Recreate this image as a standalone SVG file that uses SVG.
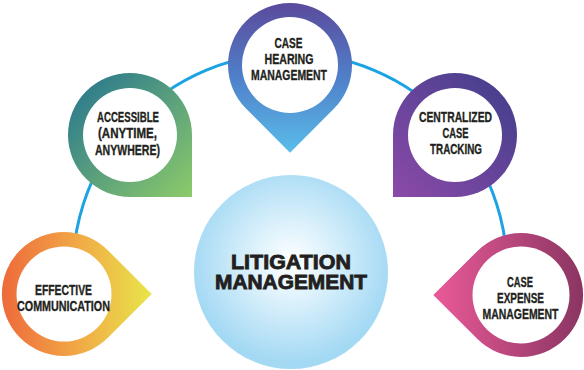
<svg xmlns="http://www.w3.org/2000/svg" width="584" height="370" viewBox="0 0 584 370">
  <style>
    .arc { fill: none; stroke: #1ba3e3; stroke-width: 3; }
    .inner { fill: #ffffff; }
    .pt { font-family: "Liberation Sans", Arial, sans-serif; font-weight: 700; font-size: 15px; fill: #231f20; text-anchor: middle; stroke: #231f20; stroke-width: 0.35; }
    .ct { font-family: "Liberation Sans", Arial, sans-serif; font-weight: 700; font-size: 19.5px; fill: #231f20; text-anchor: middle; stroke: #231f20; stroke-width: 0.8; }
  </style>
  <defs>
    <linearGradient id="gEff" gradientUnits="userSpaceOnUse" x1="2" y1="294" x2="152" y2="294">
      <stop offset="0" stop-color="#ee6a3b"/>
      <stop offset="0.5" stop-color="#f1a846"/>
      <stop offset="1" stop-color="#e8e64a"/>
    </linearGradient>
    <linearGradient id="gAcc" gradientUnits="userSpaceOnUse" x1="80" y1="85" x2="192" y2="197">
      <stop offset="0" stop-color="#2c7a8d"/>
      <stop offset="1" stop-color="#8dca6a"/>
    </linearGradient>
    <linearGradient id="gHear" gradientUnits="userSpaceOnUse" x1="290" y1="3" x2="290" y2="153">
      <stop offset="0" stop-color="#5b4a9c"/>
      <stop offset="0.5" stop-color="#4f80c9"/>
      <stop offset="1" stop-color="#5abdea"/>
    </linearGradient>
    <linearGradient id="gCen" gradientUnits="userSpaceOnUse" x1="505" y1="85" x2="393" y2="197">
      <stop offset="0" stop-color="#463f8d"/>
      <stop offset="1" stop-color="#8b4aa8"/>
    </linearGradient>
    <linearGradient id="gExp" gradientUnits="userSpaceOnUse" x1="433" y1="295" x2="583" y2="295">
      <stop offset="0" stop-color="#ea5a98"/>
      <stop offset="1" stop-color="#8a3562"/>
    </linearGradient>
    <radialGradient id="gCenter" cx="291" cy="262" r="100" gradientUnits="userSpaceOnUse">
      <stop offset="0" stop-color="#ffffff"/>
      <stop offset="0.35" stop-color="#e0f3fc"/>
      <stop offset="1" stop-color="#a4d9f4"/>
    </radialGradient>
  </defs>

  <g id="connectors">
    <path class="arc" d="M73.8,288.9 A217 217 0 1 1 506.2,288.9"/>
  </g>

  <g id="center">
    <circle cx="291" cy="272" r="97" fill="url(#gCenter)"/>
    <text class="ct" x="291" y="269" textLength="120" lengthAdjust="spacingAndGlyphs">LITIGATION</text>
    <text class="ct" x="291" y="289" textLength="152" lengthAdjust="spacingAndGlyphs">MANAGEMENT</text>
  </g>

  <g id="effective-communication">
    <path d="M151.7,294 L107.8,337.8 A62 62 0 1 1 107.8,250.2 Z" fill="url(#gEff)"/>
    <circle class="inner" cx="64" cy="294" r="47.5"/>
    <text class="pt" x="63.5" y="295" textLength="57" lengthAdjust="spacingAndGlyphs">EFFECTIVE</text>
    <text class="pt" x="63.5" y="311" textLength="93" lengthAdjust="spacingAndGlyphs">COMMUNICATION</text>
  </g>

  <g id="accessible">
    <path d="M192,197 L130,197 A62 62 0 1 1 192,135 Z" fill="url(#gAcc)"/>
    <circle class="inner" cx="130" cy="135" r="47"/>
    <text class="pt" x="128" y="122" textLength="62" lengthAdjust="spacingAndGlyphs">ACCESSIBLE</text>
    <text class="pt" x="127.5" y="138" textLength="59" lengthAdjust="spacingAndGlyphs">(ANYTIME,</text>
    <text class="pt" x="127.5" y="155" textLength="65" lengthAdjust="spacingAndGlyphs">ANYWHERE)</text>
  </g>

  <g id="case-hearing">
    <path d="M290,152.7 L246.2,108.8 A62 62 0 1 1 333.8,108.8 Z" fill="url(#gHear)"/>
    <circle class="inner" cx="290" cy="65" r="48"/>
    <text class="pt" x="288.5" y="48" textLength="28" lengthAdjust="spacingAndGlyphs">CASE</text>
    <text class="pt" x="289" y="64" textLength="49" lengthAdjust="spacingAndGlyphs">HEARING</text>
    <text class="pt" x="289" y="80" textLength="76" lengthAdjust="spacingAndGlyphs">MANAGEMENT</text>
  </g>

  <g id="centralized-case">
    <path d="M393,197 L393,135 A62 62 0 1 1 455,197 Z" fill="url(#gCen)"/>
    <circle class="inner" cx="455" cy="135" r="47"/>
    <text class="pt" x="455.5" y="122" textLength="73" lengthAdjust="spacingAndGlyphs">CENTRALIZED</text>
    <text class="pt" x="455.5" y="138" textLength="26" lengthAdjust="spacingAndGlyphs">CASE</text>
    <text class="pt" x="456" y="154" textLength="52" lengthAdjust="spacingAndGlyphs">TRACKING</text>
  </g>

  <g id="case-expense">
    <path d="M433.3,295 L477.2,251.2 A62 62 0 1 1 477.2,338.8 Z" fill="url(#gExp)"/>
    <circle class="inner" cx="521" cy="295" r="48.5"/>
    <text class="pt" x="520" y="287" textLength="26" lengthAdjust="spacingAndGlyphs">CASE</text>
    <text class="pt" x="520.5" y="303" textLength="47" lengthAdjust="spacingAndGlyphs">EXPENSE</text>
    <text class="pt" x="520.5" y="319" textLength="76" lengthAdjust="spacingAndGlyphs">MANAGEMENT</text>
  </g>
</svg>
